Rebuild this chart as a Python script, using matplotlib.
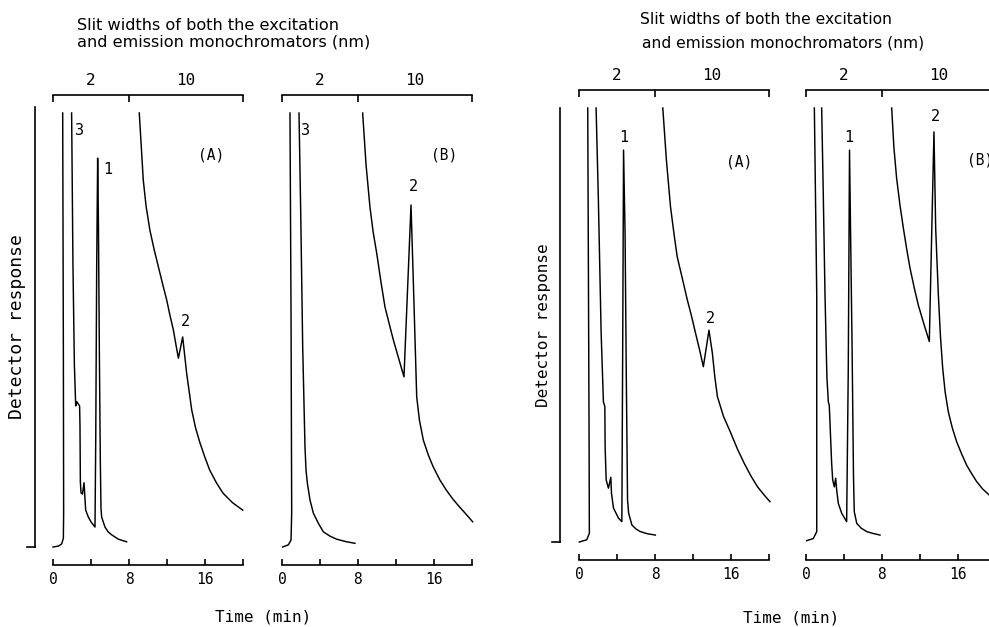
import numpy as np
import matplotlib.pyplot as plt

nan = np.nan

# Chromatograms: time in min, detector response in
# arbitrary units (0 = baseline, 100 = top of the chart paper).
# nan breaks the trace where the pen went off scale.

# left figure, panel (A)
left_a_time = [0.0, 0.56, 0.91, 1.09, 1.12, 1.09, 1.02, nan,
               1.96, 2.1, 2.25, 2.39, 2.5, 2.8, 2.84, 2.88, 2.95, 3.1, 3.27, 3.33,
               3.44, 3.72, 4.0, 4.24, 4.42, 4.5, 4.6, 4.7, 4.78, 4.88, 4.98, 5.05,
               5.12, 5.47, 5.8, 6.18, 6.88, 7.75, nan,
               9.08, 9.3, 9.5, 9.8, 10.2, 10.65, 11.1, 11.55, 11.97, 12.3, 12.67,
               12.95, 13.2, 13.65, 14.07, 14.6, 15.0, 15.47, 16.0, 16.5, 17.2,
               17.9, 18.9, 19.97]
left_a_resp = [0, 0.2, 0.7, 2, 7.8, 46, 100, nan,
               100, 65, 42, 32.5, 33.5, 32.5, 28, 15, 12.5, 12.2, 14.8, 12.5,
               8.5, 6.9, 5.8, 5.1, 4.6, 25, 65, 89.6, 75, 45, 20, 9,
               6.9, 4.6, 3.5, 2.8, 1.8, 1.2, nan,
               100, 92, 84.6, 78.5, 73, 68.5, 64.5, 60.5, 56.9, 53.5, 50,
               46.5, 43.5, 48.4, 40, 31.6, 27.5, 24, 20.6, 17.7, 14.8,
               12.4, 10.2, 8.5]
left_a_peak_names = ['3', '1', '2']
left_a_peak_time = [2.84, 5.8, 13.9]
left_a_peak_resp = [96, 87, 52]

# left figure, panel (B)
left_b_time = [0.07, 0.67, 0.95, 1.02, 0.95, 0.84, nan,
               1.79, 1.97, 2.18, 2.42, 2.53, 2.67, 2.95, 3.3, 3.82, 4.35, 5.05,
               5.75, 6.8, 7.68, nan,
               8.49, 8.85, 9.26, 9.6, 9.97, 10.4, 10.84, 11.3, 11.72, 12.3, 12.84,
               13.58, 13.82, 14.18, 14.46, 14.88, 15.4, 15.93, 16.63, 17.3, 18.0,
               18.7, 19.4, 20.07]
left_b_resp = [0, 0.5, 1.6, 7.8, 54, 100, nan,
               100, 77, 46, 23, 17.7, 14.7, 10.8, 7.8, 5.5, 3.5, 2.5,
               1.8, 1.2, 0.85, nan,
               100, 88, 78.3, 72.5, 67.7, 61.3, 55.3, 51.3, 47.7, 43.3, 39.2,
               78.8, 61.5, 34.6, 29.3, 24.6, 21.2, 18.4, 15.4, 13.1, 11,
               9.2, 7.5, 5.8]
left_b_peak_names = ['3', '2']
left_b_peak_time = [2.5, 13.8]
left_b_peak_resp = [96, 83]

# right figure, panel (A)
right_a_time = [0.03, 0.81, 1.09, 1.06, 0.92, nan,
                1.8, 2.04, 2.33, 2.57, 2.72, 2.75, 2.86, 3.1, 3.35, 3.42, 3.63,
                4.16, 4.51, 4.6, 4.69, 4.85, 4.97, 5.11, 5.22, 5.57, 6.0, 6.45,
                7.2, 8.04, nan,
                8.82, 9.2, 9.63, 10.0, 10.34, 10.9, 11.4, 11.85, 12.27, 12.7, 13.09,
                13.68, 14.04, 14.3, 14.57, 15.2, 15.98, 16.7, 17.4, 18.1, 18.8,
                19.5, 20.1]
right_a_resp = [0, 0.5, 2, 25, 100, nan,
                100, 78.8, 48.2, 32.3, 31.2, 22, 14.3, 12.4, 14.9, 11.2, 7.8,
                5.5, 4.7, 45, 90.3, 71, 40.3, 9.7, 6.7, 3.9, 3.0, 2.4,
                1.9, 1.6, nan,
                100, 88, 77.3, 71, 65.7, 60.5, 55.8, 52, 48.1, 44.2, 40.4,
                48.8, 43.5, 38, 33.5, 29, 25.1, 21.3, 18.1, 15.2, 12.7,
                10.8, 9.3]
right_a_peak_names = ['1', '2']
right_a_peak_time = [4.66, 13.8]
right_a_peak_resp = [93.3, 51.6]

# right figure, panel (B)
right_b_time = [0.07, 0.77, 1.13, 1.13, 0.88, nan,
                1.65, 1.82, 2.0, 2.2, 2.35, 2.45, 2.7, 2.81, 2.98, 3.12, 3.23, 3.4,
                3.76, 4.28, 4.45, 4.58, 4.7, 4.85, 5.0, 5.08, 5.34, 5.8, 6.39,
                7.0, 7.79, nan,
                9.02, 9.25, 9.54, 9.9, 10.25, 10.6, 10.95, 11.4, 11.82, 12.4, 12.98,
                13.47, 13.65, 13.93, 14.15, 14.39, 14.65, 14.98, 15.4, 15.86, 16.4,
                16.91, 17.45, 17.97, 18.6, 19.3, 20.0]
right_b_resp = [0.3, 0.8, 2.4, 57, 100, nan,
                100, 80, 57, 38, 32.3, 31.5, 18.1, 14.3, 12.7, 14.7, 12, 8.9,
                6.6, 4.7, 40, 90.3, 70, 45, 15, 7, 4.3, 3.2, 2.4,
                2.0, 1.6, nan,
                100, 91, 83.8, 77.5, 72.3, 67.5, 63.1, 58.5, 54.6, 50.3, 46.2,
                94.5, 72.3, 57, 47.5, 40, 34.5, 30, 26.3, 23.1, 20.2,
                17.7, 15.7, 13.9, 12.2, 10.8, 9.6]
right_b_peak_names = ['1', '2']
right_b_peak_time = [4.5, 13.6]
right_b_peak_resp = [93.3, 98]

# axis annotations
time_ticks = [0, 4, 8, 12, 16, 20]
time_labels = ['0', '', '8', '', '16', '']
slit_edges = [0, 8, 20]
slit_widths = ['2', '10']

W, H = 989, 627
PX_PER_MIN = 9.5
MONO = 'DejaVu Sans Mono'

fig = plt.figure(figsize=(W / 100, H / 100), dpi=100)


def rect(x0, x1, y_bottom, y_top):
    # pixel box -> figure fraction
    return [x0 / W, 1 - y_bottom / H, (x1 - x0) / W, (y_bottom - y_top) / H]


def draw_panel(x0, base, clip, t, r, names, pt, pr, tag, tag_t, tag_r):
    k = (base - clip) / 100.0
    ax = fig.add_axes(rect(x0, x0 + 20 * PX_PER_MIN, base + 4.2 * k, clip - 4.2 * k))
    ax.set_xlim(0, 20)
    ax.set_ylim(-4.2, 104.2)
    ax.plot(t, r, color='black', lw=1.05, clip_on=False)
    for name, a, b in zip(names, pt, pr):
        ax.text(a, b, name, fontsize=11, family=MONO, ha='center', va='center')
    ax.text(tag_t, tag_r, tag, fontsize=10.5, family=MONO, ha='center', va='center')

    ax.spines[['left', 'right', 'top']].set_visible(False)
    ax.spines['bottom'].set_linewidth(1.2)
    ax.set_yticks([])
    ax.set_xticks(time_ticks, labels=time_labels)
    ax.tick_params(axis='x', direction='in', length=4, width=1.2, pad=5,
                   labelsize=10.5)
    for lab in ax.get_xticklabels():
        lab.set_family(MONO)

    # slit width bracket on top
    sec = ax.secondary_xaxis('top')
    sec.spines['top'].set_linewidth(1.2)
    sec.set_xticks(slit_edges, labels=['', '', ''])
    mids = [(slit_edges[i] + slit_edges[i + 1]) / 2 for i in range(len(slit_widths))]
    sec.set_xticks(mids, labels=slit_widths, minor=True)
    sec.tick_params(which='major', direction='in', length=5, width=1.2)
    sec.tick_params(which='minor', length=0, pad=5, labelsize=11.5)
    for lab in sec.get_xticklabels(minor=True):
        lab.set_family(MONO)
    return ax


def draw_response_axis(x_line, y_top, y_bottom, size):
    ay = fig.add_axes(rect(x_line - 8, x_line, y_bottom, y_top))
    ay.spines[['left', 'top']].set_visible(False)
    ay.spines[['right', 'bottom']].set_linewidth(1.2)
    ay.set_xticks([])
    ay.set_yticks([])
    ay.patch.set_alpha(0)
    ay.set_ylabel('Detector response', family=MONO, fontsize=size, labelpad=1)


# left figure
draw_response_axis(35, 107, 547, 13)
draw_panel(53, 547, 113, left_a_time, left_a_resp, left_a_peak_names,
           left_a_peak_time, left_a_peak_resp, '(A)', 16.6, 90.3)
draw_panel(282, 547, 113, left_b_time, left_b_resp, left_b_peak_names,
           left_b_peak_time, left_b_peak_resp, '(B)', 17.1, 90.3)
fig.text(77 / W, 1 - 25 / H, 'Slit widths of both the excitation',
         fontsize=11.6, ha='left', va='center')
fig.text(77 / W, 1 - 42 / H, 'and emission monochromators (nm)',
         fontsize=11.6, ha='left', va='center')
fig.text(263 / W, 1 - 617 / H, 'Time (min)', family=MONO, fontsize=11.5,
         ha='center', va='center')

# right figure
draw_response_axis(560, 108, 542, 11.5)
draw_panel(579, 542, 108, right_a_time, right_a_resp, right_a_peak_names,
           right_a_peak_time, right_a_peak_resp, '(A)', 16.9, 87.6)
draw_panel(806, 542, 108, right_b_time, right_b_resp, right_b_peak_names,
           right_b_peak_time, right_b_peak_resp, '(B)', 18.3, 88)
fig.text(640 / W, 1 - 20 / H, 'Slit widths of both the excitation',
         fontsize=11.2, ha='left', va='center')
fig.text(642 / W, 1 - 43 / H, 'and emission monochromators (nm)',
         fontsize=11.2, ha='left', va='center')
fig.text(791 / W, 1 - 618 / H, 'Time (min)', family=MONO, fontsize=11.5,
         ha='center', va='center')

fig.savefig('out.png', dpi=100)
